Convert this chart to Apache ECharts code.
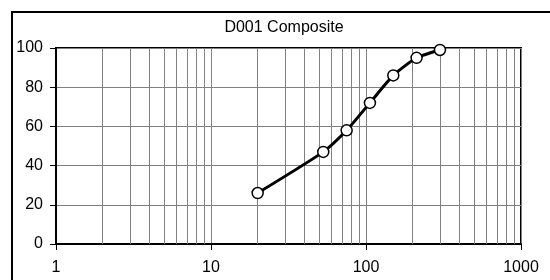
<!DOCTYPE html>
<html>
<head>
<meta charset="utf-8">
<script src="https://cdn.jsdelivr.net/npm/echarts@6/dist/echarts.min.js"></script>
<style>
html,body{margin:0;padding:0;background:#fff;}
#chart{width:550px;height:280px;}
</style>
</head>
<body>
<div id="chart"></div>
<script>
// sieve size vs cumulative % passing
var sizes = [20, 53, 75, 106, 150, 212, 300];
var passing = [26, 47, 58, 72, 86, 95, 99];
var yTicks = [0, 20, 40, 60, 80, 100];
var xMinorGrid = [2, 3, 4, 5, 6, 7, 8, 9,
                  20, 30, 40, 50, 60, 70, 80, 90,
                  200, 300, 400, 500, 600, 700, 800, 900];

var chart = echarts.init(document.getElementById('chart'));

var points = [];
for (var i = 0; i < sizes.length; i++) {
    points.push([sizes[i], passing[i]]);
}
var minorLines = [];
for (var j = 0; j < xMinorGrid.length; j++) {
    minorLines.push({xAxis: xMinorGrid[j]});
}

var option = {
    animation: false,
    textStyle: {fontFamily: 'Liberation Sans, Arial, sans-serif'},
    title: {
        text: 'D001 Composite',
        left: 284,
        textAlign: 'center',
        top: 20,
        padding: 0,
        textStyle: {fontSize: 16, fontWeight: 'normal', color: '#000'}
    },
    graphic: [{
        type: 'rect',
        shape: {x: 12, y: 12, width: 560, height: 300},
        style: {fill: 'none', stroke: '#000', lineWidth: 2},
        silent: true
    }],
    grid: {
        left: 56, right: 29, top: 48, bottom: 36,
        show: true,
        borderColor: '#000',
        borderWidth: 2
    },
    xAxis: {
        type: 'log',
        logBase: 10,
        min: 1,
        max: 1000,
        axisLine: {show: true, onZero: false, lineStyle: {color: '#000', width: 2}},
        axisTick: {show: true, length: 6, lineStyle: {color: '#000'}},
        axisLabel: {fontSize: 16, color: '#000', margin: 16,
            formatter: function (v) { return String(v); }},
        splitLine: {show: true, lineStyle: {color: '#808080', width: 1}}
    },
    yAxis: {
        type: 'value',
        min: 0,
        max: 100,
        interval: 20,
        axisLine: {show: true, lineStyle: {color: '#000', width: 2}},
        axisTick: {show: true, length: 6, lineStyle: {color: '#000'}},
        axisLabel: {fontSize: 16, color: '#000', margin: 13,
            formatter: function (v) { return yTicks.indexOf(v) >= 0 ? v : ''; }},
        splitLine: {show: true, lineStyle: {color: '#808080', width: 1}}
    },
    series: [{
        type: 'line',
        data: points,
        smooth: 0.2,
        symbol: 'circle',
        symbolSize: 11,
        lineStyle: {color: '#000', width: 3},
        itemStyle: {color: '#fff', borderColor: '#000', borderWidth: 1.5},
        z: 5,
        markLine: {
            silent: true,
            symbol: 'none',
            label: {show: false},
            lineStyle: {color: '#808080', width: 1, type: 'solid'},
            data: minorLines,
            animation: false,
            z: 1
        }
    }]
};

chart.setOption(option);
</script>
</body>
</html>
